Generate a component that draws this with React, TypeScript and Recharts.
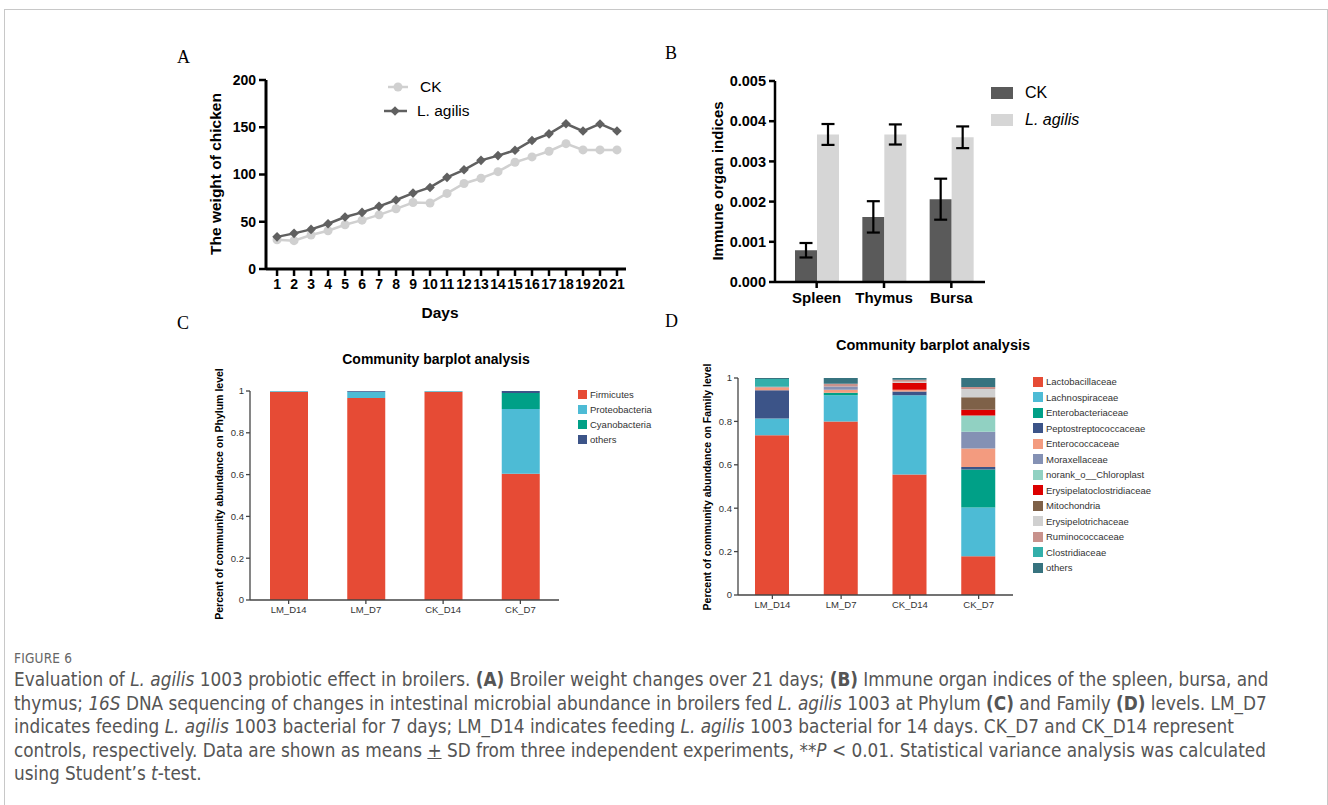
import React from "react";
import { LineChart, Line, XAxis, YAxis, BarChart, Bar, ErrorBar, Legend } from "recharts";

// Panel A: body weight over 21 days
const DAYS = [1, 2, 3, 4, 5, 6, 7, 8, 9, 10, 11, 12, 13, 14, 15, 16, 17, 18, 19, 20, 21];
const CK_WEIGHT = [31, 30, 36, 40.5, 46.8, 51.7, 57.3, 63.7, 70.4, 69.8, 80, 90.5, 96, 103, 113, 118.6, 124.6, 132.6, 126, 126, 126];
const LAG_WEIGHT = [34, 37.7, 41.9, 47.9, 55, 59.9, 66.3, 73, 80.3, 86.3, 97, 105, 115, 120, 125.6, 136, 143, 153.7, 146, 153.5, 146];
const WEIGHT_TICKS = [0, 50, 100, 150, 200];

// Panel B: immune organ indices
const ORGANS = ["Spleen", "Thymus", "Bursa"];
const CK_INDEX = [0.00079, 0.00162, 0.00206];
const CK_SD = [0.00018, 0.00039, 0.00051];
const LAG_INDEX = [0.00367, 0.00367, 0.0036];
const LAG_SD = [0.00026, 0.00025, 0.00027];
const INDEX_TICKS = [0, 0.001, 0.002, 0.003, 0.004, 0.005];

// Panel C / D: community composition
const SAMPLES = ["LM_D14", "LM_D7", "CK_D14", "CK_D7"];
const FRACTION_TICKS = [0, 0.2, 0.4, 0.6, 0.8, 1];

const PHYLA = ["Firmicutes", "Proteobacteria", "Cyanobacteria", "others"];
const FIRMICUTES = [0.997, 0.967, 0.997, 0.604];
const PROTEOBACTERIA = [0.003, 0.03, 0.003, 0.31];
const CYANOBACTERIA = [0, 0, 0, 0.076];
const PHYLUM_OTHERS = [0, 0.003, 0, 0.01];
const PHYLUM_COLORS = ["#E64B35", "#4DBBD5", "#00A087", "#3C5488"];

const FAMILIES = [
  "Lactobacillaceae", "Lachnospiraceae", "Enterobacteriaceae", "Peptostreptococcaceae",
  "Enterococcaceae", "Moraxellaceae", "norank_o__Chloroplast", "Erysipelatoclostridiaceae",
  "Mitochondria", "Erysipelotrichaceae", "Ruminococcaceae", "Clostridiaceae", "others",
];
const LACTOBACILLACEAE = [0.736, 0.8, 0.555, 0.179];
const LACHNOSPIRACEAE = [0.077, 0.12, 0.365, 0.224];
const ENTEROBACTERIACEAE = [0, 0.012, 0, 0.175];
const PEPTOSTREPTOCOCCACEAE = [0.13, 0, 0.018, 0.012];
const ENTEROCOCCACEAE = [0.012, 0.014, 0.008, 0.085];
const MORAXELLACEAE = [0, 0.015, 0, 0.077];
const CHLOROPLAST = [0, 0, 0, 0.075];
const ERYSIPELATOCLOSTRIDIACEAE = [0, 0, 0.032, 0.027];
const MITOCHONDRIA = [0, 0, 0, 0.057];
const ERYSIPELOTRICHACEAE = [0, 0, 0.005, 0.038];
const RUMINOCOCCACEAE = [0.005, 0.012, 0.009, 0.009];
const CLOSTRIDIACEAE = [0.035, 0, 0, 0];
const FAMILY_OTHERS = [0.005, 0.027, 0.008, 0.042];
const FAMILY_COLORS = [
  "#E64B35", "#4DBBD5", "#00A087", "#3C5488", "#F39B7F", "#8491B4", "#91D1C2",
  "#DC0000", "#7E6148", "#D0D0D0", "#C8928C", "#33AFAA", "#37737F",
];

const weightData = DAYS.map((d, i) => ({ day: d, ck: CK_WEIGHT[i], lag: LAG_WEIGHT[i] }));
const organData = ORGANS.map((o, i) => ({ organ: o, ck: CK_INDEX[i], ckSd: CK_SD[i], lag: LAG_INDEX[i], lagSd: LAG_SD[i] }));
const phylumSeries = [FIRMICUTES, PROTEOBACTERIA, CYANOBACTERIA, PHYLUM_OTHERS];
const familySeries = [
  LACTOBACILLACEAE, LACHNOSPIRACEAE, ENTEROBACTERIACEAE, PEPTOSTREPTOCOCCACEAE, ENTEROCOCCACEAE,
  MORAXELLACEAE, CHLOROPLAST, ERYSIPELATOCLOSTRIDIACEAE, MITOCHONDRIA, ERYSIPELOTRICHACEAE,
  RUMINOCOCCACEAE, CLOSTRIDIACEAE, FAMILY_OTHERS,
];
const phylumData = SAMPLES.map((s, i) => {
  const row: Record<string, any> = { sample: s };
  PHYLA.forEach((p, j) => (row[p] = phylumSeries[j][i]));
  return row;
});
const familyData = SAMPLES.map((s, i) => {
  const row: Record<string, any> = { sample: s };
  FAMILIES.forEach((f, j) => (row[f] = familySeries[j][i]));
  return row;
});

const ARIAL = '"Liberation Sans", Arial, Helvetica, sans-serif';
const boldTick = { fill: "#000", fontSize: 14, fontWeight: 700, fontFamily: ARIAL };
const thinTick = { fill: "#333", fontSize: 9.5, fontFamily: ARIAL };

const renderDiamond = (props: any) => {
  const { cx, cy, index } = props;
  if (cx == null || cy == null) return <g key={`dm-${index}`} />;
  const s = 4.8;
  return (
    <path key={`dm-${index}`} d={`M${cx},${cy - s}L${cx + s},${cy}L${cx},${cy + s}L${cx - s},${cy}Z`} fill="#606060" />
  );
};

const WeightLegend = () => (
  <div style={{ fontFamily: ARIAL, fontSize: 15.5, color: "#000" }}>
    <div style={{ display: "flex", alignItems: "center", height: 24 }}>
      <svg width={30} height={14}>
        <line x1={5} y1={7} x2={25} y2={7} stroke="#d0d0d0" strokeWidth={2.5} />
        <circle cx={15} cy={7} r={4.5} fill="#d0d0d0" />
      </svg>
      <span style={{ marginLeft: 7 }}>CK</span>
    </div>
    <div style={{ display: "flex", alignItems: "center", height: 24 }}>
      <svg width={30} height={14}>
        <line x1={1} y1={7} x2={24} y2={7} stroke="#606060" strokeWidth={2.5} />
        <path d="M12,2.2L16.8,7L12,11.8L7.2,7Z" fill="#606060" />
      </svg>
      <span style={{ marginLeft: 4 }}>L. agilis</span>
    </div>
  </div>
);

const OrganLegend = ({ payload }: any) => (
  <div style={{ fontFamily: ARIAL, fontSize: 16, color: "#000" }}>
    {(payload || []).map((p: any, i: number) => (
      <div key={i} style={{ display: "flex", alignItems: "center", height: 26.5 }}>
        <div style={{ width: 22, height: 12, background: p.color }} />
        <span style={{ marginLeft: 12, fontStyle: i === 1 ? "italic" : "normal" }}>{p.value}</span>
      </div>
    ))}
  </div>
);

// swatch legends keep the series order (not sorted)
const makeSwatchLegend = (names: string[], colors: string[], rowH: number, sq: number) => () => (
  <div style={{ fontFamily: ARIAL, fontSize: 9.5, color: "#333" }}>
    {names.map((n, i) => (
      <div key={n} style={{ display: "flex", alignItems: "center", height: rowH, whiteSpace: "nowrap" }}>
        <div style={{ width: sq, height: sq, background: colors[i] }} />
        <span style={{ marginLeft: 3 }}>{n}</span>
      </div>
    ))}
  </div>
);
const PhylumLegend = makeSwatchLegend(PHYLA, PHYLUM_COLORS, 15, 9);
const FamilyLegend = makeSwatchLegend(FAMILIES, FAMILY_COLORS, 15.5, 10);

const abs = (left: number, top: number, extra: React.CSSProperties = {}): React.CSSProperties => ({
  position: "absolute", left, top, ...extra,
});

const Letter = ({ x, y, t }: { x: number; y: number; t: string }) => (
  <div style={abs(x, y, { fontFamily: '"Liberation Serif", "Times New Roman", serif', fontSize: 18, lineHeight: "18px", color: "#000" })}>{t}</div>
);

const VLabel = ({ cx, cy, text, size, weight = 700 }: { cx: number; cy: number; text: string; size: number; weight?: number }) => (
  <div
    style={abs(cx, cy, {
      transform: "translate(-50%, -50%) rotate(-90deg)",
      whiteSpace: "nowrap", fontFamily: ARIAL, fontSize: size, fontWeight: weight, color: "#000",
    })}
  >
    {text}
  </div>
);

const HLabel = ({ cx, cy, text, size }: { cx: number; cy: number; text: string; size: number }) => (
  <div style={abs(cx, cy, { transform: "translate(-50%, -50%)", whiteSpace: "nowrap", fontFamily: ARIAL, fontSize: size, fontWeight: 700, color: "#000" })}>
    {text}
  </div>
);

const CAPTION_FONT = '"Liberation Sans Narrow", "DejaVu Sans Condensed", "Open Sans", sans-serif';

export default function App() {
  return (
    <div style={{ position: "absolute", left: 0, top: 0, width: 1328, height: 805, overflow: "hidden", background: "#fff" }}>
      <div style={abs(4, 9, { width: 1324, height: 900, border: "1px solid #c8c8c8", boxSizing: "border-box" })} />

      <Letter x={177} y={48} t="A" />
      <Letter x={665} y={44} t="B" />
      <Letter x={177} y={314} t="C" />
      <Letter x={665} y={312} t="D" />

      {/* Panel A */}
      <div style={abs(150, 60)}>
        <LineChart width={486} height={245} data={weightData} margin={{ top: 20, right: 10, bottom: 6, left: 0 }}>
          <XAxis
            dataKey="day" type="number" domain={[0.35, 21.53]} ticks={DAYS} interval={0}
            height={30} tickSize={7} tickMargin={3}
            axisLine={{ stroke: "#000", strokeWidth: 3 }} tickLine={{ stroke: "#000", strokeWidth: 2.5 }} tick={boldTick}
          />
          <YAxis
            domain={[0, 200]} ticks={WEIGHT_TICKS} width={116} tickSize={7} tickMargin={3}
            axisLine={{ stroke: "#000", strokeWidth: 3 }} tickLine={{ stroke: "#000", strokeWidth: 2.5 }} tick={boldTick}
          />
          <Line dataKey="ck" name="CK" stroke="#d0d0d0" strokeWidth={2.5} dot={{ r: 4.5, fill: "#d0d0d0", stroke: "#d0d0d0", strokeWidth: 0 }} isAnimationActive={false} />
          <Line dataKey="lag" name="L. agilis" stroke="#606060" strokeWidth={2.5} dot={renderDiamond} isAnimationActive={false} />
          <Legend layout="horizontal" verticalAlign="middle" align="center" content={WeightLegend as any} wrapperStyle={{ left: 233, top: 15, width: 120, height: 50 }} />
        </LineChart>
      </div>
      <VLabel cx={216} cy={174} text="The weight of chicken" size={15.5} />
      <HLabel cx={440} cy={313} text="Days" size={15.5} />

      {/* Panel B */}
      <div style={abs(650, 60)}>
        <BarChart width={345} height={257} data={organData} margin={{ top: 21, right: 10, bottom: 5, left: 0 }} barGap={0} barSize={22}>
          <XAxis
            dataKey="organ" padding={{ left: 8, right: 0 }} height={30} tickSize={6} tickMargin={4}
            axisLine={{ stroke: "#000", strokeWidth: 2.5 }} tickLine={{ stroke: "#000", strokeWidth: 2.5 }}
            tick={{ ...boldTick, fontSize: 15 }}
          />
          <YAxis
            domain={[0, 0.005]} ticks={INDEX_TICKS} tickFormatter={(v: number) => v.toFixed(3)} width={125}
            tickSize={6} tickMargin={3}
            axisLine={{ stroke: "#000", strokeWidth: 2.5 }} tickLine={{ stroke: "#000", strokeWidth: 2.5 }}
            tick={{ ...boldTick, fontSize: 14.5 }}
          />
          <Bar dataKey="ck" name="CK" fill="#5a5a5a" isAnimationActive={false}>
            <ErrorBar dataKey="ckSd" width={6.5} stroke="#000" strokeWidth={2.2} />
          </Bar>
          <Bar dataKey="lag" name="L. agilis" fill="#d6d6d6" isAnimationActive={false}>
            <ErrorBar dataKey="lagSd" width={6.5} stroke="#000" strokeWidth={2.2} />
          </Bar>
          <Legend layout="horizontal" verticalAlign="middle" align="center" content={OrganLegend as any} wrapperStyle={{ left: 341, top: 20, width: 110, height: 56 }} />
        </BarChart>
      </div>
      <VLabel cx={717} cy={181} text="Immune organ indices" size={15} />

      {/* Panel C */}
      <HLabel cx={436} cy={359} text="Community barplot analysis" size={14} />
      <div style={abs(160, 370)}>
        <BarChart width={409} height={260} data={phylumData} margin={{ top: 21, right: 10, bottom: 5, left: 0 }} barSize={38}>
          <XAxis
            dataKey="sample" height={25} tickSize={4} tickMargin={2}
            axisLine={{ stroke: "#444", strokeWidth: 1.3 }} tickLine={{ stroke: "#444", strokeWidth: 1.3 }} tick={thinTick}
          />
          <YAxis
            domain={[0, 1]} ticks={FRACTION_TICKS} width={90} tickSize={4} tickMargin={2}
            axisLine={{ stroke: "#444", strokeWidth: 1.3 }} tickLine={{ stroke: "#444", strokeWidth: 1.3 }} tick={thinTick}
          />
          {PHYLA.map((p, j) => (
            <Bar key={p} dataKey={p} stackId="phylum" fill={PHYLUM_COLORS[j]} isAnimationActive={false} />
          ))}
          <Legend layout="horizontal" verticalAlign="middle" align="center" content={PhylumLegend as any} wrapperStyle={{ left: 418, top: 17, width: 110, height: 62 }} />
        </BarChart>
      </div>
      <VLabel cx={219} cy={494} text="Percent of community abundance on Phylum level" size={10.5} />

      {/* Panel D */}
      <HLabel cx={933} cy={345} text="Community barplot analysis" size={14.5} />
      <div style={abs(660, 360)}>
        <BarChart width={363} height={262} data={familyData} margin={{ top: 18, right: 10, bottom: 5, left: 0 }} barSize={34}>
          <XAxis
            dataKey="sample" height={22} tickSize={4} tickMargin={2}
            axisLine={{ stroke: "#444", strokeWidth: 1.3 }} tickLine={{ stroke: "#444", strokeWidth: 1.3 }} tick={thinTick}
          />
          <YAxis
            domain={[0, 1]} ticks={FRACTION_TICKS} width={78} tickSize={4} tickMargin={2}
            axisLine={{ stroke: "#444", strokeWidth: 1.3 }} tickLine={{ stroke: "#444", strokeWidth: 1.3 }} tick={thinTick}
          />
          {FAMILIES.map((f, j) => (
            <Bar key={f} dataKey={f} stackId="family" fill={FAMILY_COLORS[j]} isAnimationActive={false} />
          ))}
          <Legend layout="horizontal" verticalAlign="middle" align="center" content={FamilyLegend as any} wrapperStyle={{ left: 373, top: 14, width: 150, height: 205 }} />
        </BarChart>
      </div>
      <VLabel cx={707} cy={487} text="Percent of community abundance on Family level" size={10.5} />

      {/* Caption */}
      <div style={abs(14, 650, { fontFamily: CAPTION_FONT, fontSize: 13.5, color: "#666", letterSpacing: 0.2 })}>FIGURE 6</div>
      <div style={abs(14, 668, { fontFamily: CAPTION_FONT, fontSize: 18.8, lineHeight: "23.6px", color: "#555", whiteSpace: "nowrap" })}>
        <div>
          Evaluation of <i>L. agilis</i> 1003 probiotic effect in broilers. <b>(A)</b> Broiler weight changes over 21 days; <b>(B)</b> Immune organ indices of the spleen, bursa, and
        </div>
        <div>
          thymus; <i>16S</i> DNA sequencing of changes in intestinal microbial abundance in broilers fed <i>L. agilis</i> 1003 at Phylum <b>(C)</b> and Family <b>(D)</b> levels. LM_D7
        </div>
        <div>
          indicates feeding <i>L. agilis</i> 1003 bacterial for 7 days; LM_D14 indicates feeding <i>L. agilis</i> 1003 bacterial for 14 days. CK_D7 and CK_D14 represent
        </div>
        <div>
          controls, respectively. Data are shown as means <u>+</u> SD from three independent experiments, **<i>P</i> &lt; 0.01. Statistical variance analysis was calculated
        </div>
        <div>
          using Student’s <i>t</i>-test.
        </div>
      </div>
    </div>
  );
}
